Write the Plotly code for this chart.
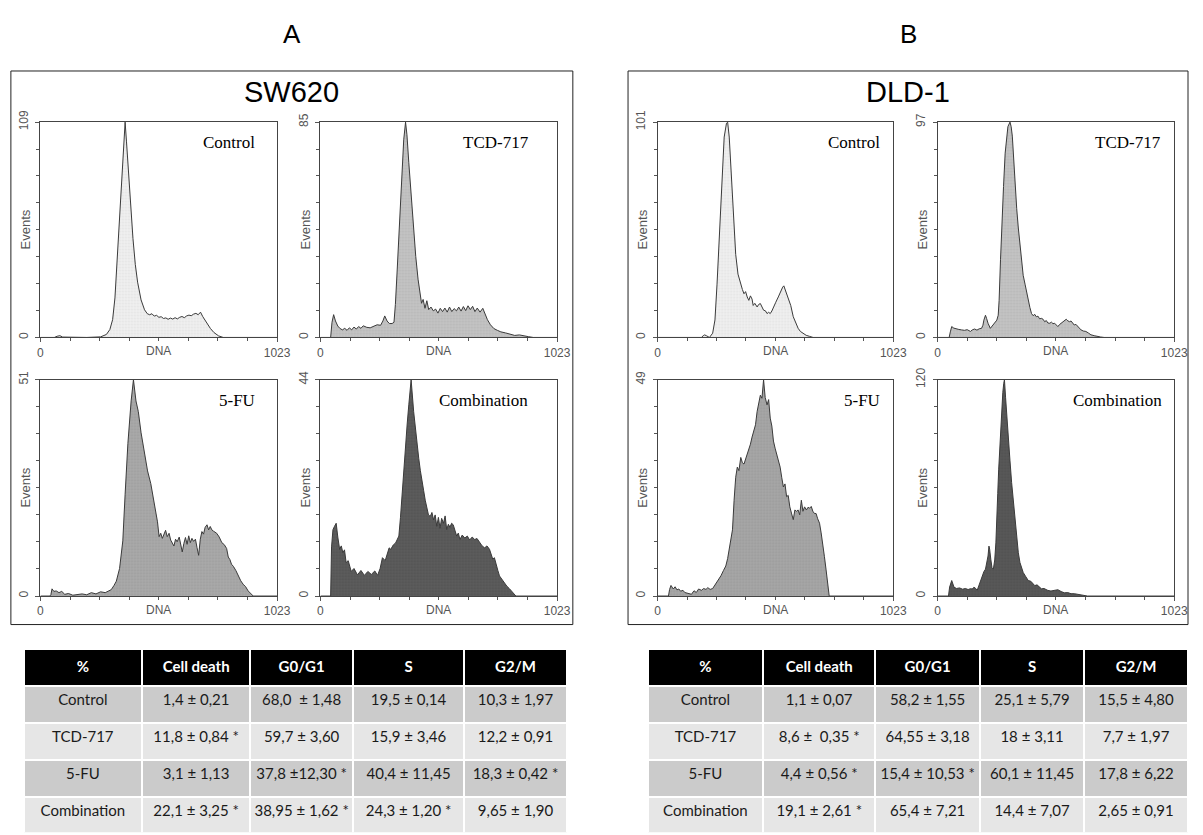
import plotly.graph_objects as go

W, H = 1203, 835

# ---------------- data ----------------
panel_letters = ["A", "B"]
cell_lines = ["SW620", "DLD-1"]
treatments = ["Control", "TCD-717", "5-FU", "Combination"]
dna_tick_labels = ["0", "1023"]
dna_range = [0, 1023]

# SW620 histograms (DNA channel, events)
sw_ymax = [109, 85, 51, 44]
sw_control_dna = [0, 60, 72, 84, 96, 200, 260, 285, 300, 312, 322, 332, 342, 352, 360, 366, 372, 380, 390, 400, 410, 420, 435, 450, 462, 472, 482, 492, 502, 512, 522, 532, 542, 552, 562, 572, 582, 592, 602, 612, 622, 632, 642, 652, 662, 672, 682, 692, 702, 712, 722, 735, 750, 770, 790, 1023]
sw_control_events = [0, 0, 0.6, 0.9, 0.2, 0, 0.3, 1.5, 4, 9, 20, 40, 62, 84, 100, 109, 99, 84, 67, 50, 37, 28, 19, 14, 12, 11.5, 12, 10.8, 11.2, 10.2, 10.5, 9.6, 9.9, 9.2, 9.8, 9.3, 10, 9.4, 10.2, 10.6, 10, 10.9, 11.3, 11, 11.8, 12.2, 11.5, 12.8, 10.5, 8.5, 6.5, 4.5, 2.5, 0.8, 0, 0]
sw_tcd_dna = [0, 44, 50, 57, 65, 75, 85, 95, 105, 115, 125, 135, 145, 155, 165, 175, 185, 200, 215, 230, 245, 260, 270, 278, 288, 298, 310, 318, 324, 332, 342, 352, 360, 368, 374, 382, 392, 402, 412, 422, 430, 437, 444, 452, 460, 468, 478, 488, 498, 508, 518, 528, 538, 548, 558, 568, 578, 588, 598, 608, 618, 628, 638, 648, 658, 668, 678, 690, 702, 712, 722, 735, 750, 765, 780, 800, 820, 840, 860, 880, 900, 920, 1023]
sw_tcd_events = [0, 0, 6, 9, 6.5, 4.5, 3.5, 3, 3.6, 2.8, 3.8, 3, 4.1, 3.3, 4.3, 3.6, 4.6, 4, 3.8, 4.5, 5, 4.8, 6.5, 8.5, 6.5, 5.5, 5.5, 6, 13, 27, 46, 65, 78, 85, 80, 69, 56, 43, 32, 23, 17, 13.5, 15, 11.5, 14.5, 11, 12, 10.5, 11.2, 9.6, 11.5, 10.2, 11.6, 10, 12, 10.2, 11.4, 10.5, 12, 10.4, 12.2, 10.6, 12.5, 11, 12.3, 10.2, 11.6, 10, 11.5, 9, 7, 5, 3.5, 2.8, 2.2, 1.8, 1.2, 0.8, 1, 0.5, 0.3, 0, 0]
sw_5fu_dna = [0, 40, 45, 50, 58, 68, 80, 92, 105, 121, 140, 160, 180, 200, 220, 240, 260, 280, 295, 306, 318, 328, 342, 356, 366, 378, 392, 402, 413, 423, 435, 449, 463, 477, 492, 506, 513, 520, 527, 534, 541, 548, 556, 563, 570, 577, 584, 591, 600, 613, 620, 627, 634, 641, 648, 655, 662, 670, 677, 684, 691, 698, 705, 712, 720, 727, 734, 741, 748, 755, 762, 773, 784, 795, 805, 812, 819, 826, 834, 845, 855, 866, 876, 887, 898, 910, 920, 1023]
sw_5fu_events = [0, 0, 0.3, 1.7, 1.1, 1.2, 0.8, 1.1, 0.4, 0.6, 0.2, 0.3, 0.5, 0.3, 0.8, 0.5, 1, 0.8, 1.1, 1.5, 2.5, 3.5, 6.5, 13, 24, 36, 46, 51, 46, 43.5, 38.5, 34, 29.5, 26.5, 22, 17.5, 14, 14.8, 13.6, 14.8, 15.5, 14, 14.8, 13.2, 12.4, 11.8, 13.4, 12.8, 13.9, 10.4, 12.4, 13.8, 12.2, 14.2, 12.6, 13.6, 12.9, 13.4, 11.4, 9.6, 13.4, 15.2, 14.6, 16.2, 16.8, 15.6, 16.4, 15.6, 15.3, 15.1, 14.8, 13.9, 12.6, 12.1, 11.2, 9.2, 8.6, 7.5, 7, 6, 4.8, 3.6, 2.8, 2.2, 1.2, 0.4, 0, 0]
sw_comb_dna = [0, 44, 48, 54, 61, 68, 75, 83, 90, 97, 104, 111, 120, 133, 145, 160, 175, 190, 205, 220, 235, 247, 258, 268, 280, 289, 297, 304, 315, 325, 339, 346, 353, 360, 368, 375, 382, 392, 403, 410, 418, 425, 432, 439, 446, 453, 460, 467, 475, 482, 489, 496, 503, 510, 517, 524, 532, 539, 546, 553, 560, 567, 574, 582, 589, 596, 603, 613, 624, 635, 645, 656, 667, 677, 688, 699, 710, 720, 731, 738, 745, 752, 760, 767, 774, 784, 795, 806, 817, 828, 838, 845, 1023]
sw_comb_events = [0, 0, 10, 13.5, 14.2, 14.8, 12, 9.5, 10.2, 8.8, 9.4, 6.8, 7.2, 5, 5.6, 4.3, 5.2, 4.2, 5, 4.4, 5.1, 4.2, 5.6, 7.8, 7.2, 8.8, 9.8, 9.5, 10.4, 10.8, 12.2, 16, 20.8, 26, 30.9, 35, 38.9, 44, 37.5, 34, 30.9, 28, 25.5, 23, 21.5, 19.5, 18.2, 16.5, 16.2, 17, 15.5, 16.5, 14.2, 16, 13.8, 15.8, 14.8, 16.3, 13.5, 14.6, 14, 14.8, 14.5, 13, 12.2, 12.8, 11.5, 12.4, 11.8, 12.2, 11.4, 12, 11.5, 11.7, 10.8, 10.2, 9.8, 10.2, 9.5, 8.4, 7.5, 7.8, 6.1, 5.2, 4.1, 3.4, 2.8, 2, 1.5, 0.9, 0.5, 0, 0]

# DLD-1 histograms (DNA channel, events)
dld_ymax = [101, 97, 49, 120]
dld_control_dna = [0, 190, 198, 204, 212, 225, 239, 249, 258, 268, 278, 289, 299, 304, 311, 318, 329, 339, 349, 360, 368, 375, 382, 389, 396, 403, 410, 415, 422, 432, 439, 446, 453, 460, 468, 475, 482, 489, 496, 503, 513, 524, 533, 543, 548, 553, 560, 567, 578, 589, 600, 610, 620, 631, 645, 660, 675, 1023]
dld_control_events = [0, 0, 0.8, 1.2, 0.8, 0, 2, 8.2, 25, 48, 74, 94, 100.5, 101, 94, 79, 56, 39, 29.7, 25, 22.5, 20.5, 21.5, 19, 17.4, 19.5, 18, 15, 16, 14.3, 15.5, 15.9, 14.2, 12.8, 12.5, 11.2, 11.8, 11.2, 12.4, 14.3, 16.5, 19, 21.5, 23.6, 24.2, 22.8, 21, 19, 15, 9.7, 6.5, 4.3, 2.8, 2, 1, 0.5, 0, 0]
dld_tcd_dna = [0, 50, 55, 61, 70, 80, 92, 104, 116, 128, 135, 142, 150, 160, 170, 180, 190, 196, 200, 204, 207, 212, 218, 228, 235, 242, 250, 256, 262, 266, 272, 278, 285, 292, 298, 304, 313, 318, 323, 329, 335, 342, 349, 356, 363, 370, 378, 385, 392, 399, 406, 413, 420, 427, 434, 441, 449, 456, 463, 470, 477, 485, 492, 499, 506, 513, 520, 527, 534, 541, 549, 556, 563, 570, 577, 584, 591, 598, 606, 613, 620, 630, 641, 652, 663, 677, 691, 705, 720, 1023]
dld_tcd_events = [0, 0, 2.5, 4.9, 4.2, 3.8, 3.6, 3.4, 3.2, 3.5, 3.1, 2.7, 3.4, 3.8, 3.3, 3.9, 4.1, 5.5, 7.8, 9, 10, 8.5, 6.4, 4.1, 5, 5.6, 6.6, 7.8, 10, 16.7, 35, 53.7, 68, 83, 90, 95, 97, 95, 90.7, 80, 68.5, 58, 49.3, 41, 33, 28, 24, 20, 16.7, 13.5, 10.8, 9.8, 10.4, 9.3, 9.6, 8.4, 8.6, 8.2, 7.1, 7.6, 6.5, 6.4, 6.9, 6.2, 6.4, 5.6, 4.9, 5.8, 6.4, 7.2, 7.8, 8.2, 7.5, 7.1, 7.4, 6.4, 5.6, 5.9, 4.8, 4.3, 3.4, 2.9, 2.7, 2, 1.2, 0.8, 0.4, 0.2, 0, 0]
dld_5fu_dna = [0, 47, 52, 58, 68, 76, 84, 92, 100, 110, 118, 128, 138, 147, 158, 168, 178, 190, 200, 210, 218, 228, 239, 254, 265, 275, 286, 296, 304, 311, 318, 325, 332, 339, 346, 353, 361, 368, 375, 382, 389, 396, 403, 410, 418, 425, 432, 439, 446, 453, 460, 467, 475, 482, 489, 496, 503, 510, 517, 524, 532, 539, 546, 553, 560, 567, 574, 582, 589, 596, 603, 610, 617, 624, 631, 638, 646, 653, 660, 667, 674, 681, 688, 695, 703, 710, 717, 724, 731, 738, 745, 1023]
dld_5fu_events = [0, 0, 1.5, 2.4, 1.6, 2.1, 1.4, 1.6, 1.1, 1.3, 0.8, 0.6, 0.5, 0.4, 1.2, 0.8, 1.6, 1.3, 1.7, 1.5, 1.9, 1.5, 1.7, 2.8, 3.6, 4.6, 5.8, 6.8, 8.5, 10.6, 12.8, 15, 21.7, 26.9, 29.2, 28.4, 31.4, 30.2, 29.9, 31, 32.1, 33.2, 34.4, 36, 37.3, 38.8, 41.8, 43.6, 45.5, 44.8, 49, 45, 43.3, 44.5, 40.3, 38.5, 35.1, 33.5, 32.1, 30.6, 29.2, 26.8, 24.7, 25.4, 22.5, 22.8, 20.2, 18.6, 17.3, 19.5, 19.2, 19.5, 18.4, 21.7, 19.2, 20.2, 19.5, 20.1, 19.9, 20.3, 19.2, 18.7, 18.7, 17.5, 16.5, 14.3, 12.1, 9, 6.1, 3, 0, 0]
dld_comb_dna = [0, 47, 52, 61, 71, 82, 95, 108, 120, 132, 142, 150, 157, 164, 171, 178, 185, 192, 200, 207, 213, 218, 222, 225, 230, 235, 241, 247, 252, 256, 260, 264, 269, 274, 278, 282, 286, 289, 294, 299, 306, 313, 320, 328, 335, 342, 349, 356, 363, 370, 380, 392, 403, 413, 420, 430, 440, 449, 460, 470, 477, 490, 506, 520, 534, 548, 563, 577, 591, 605, 620, 634, 648, 1023]
dld_comb_events = [0, 0, 5, 8.6, 4.9, 4.2, 4.5, 3.8, 4.2, 3.6, 4.1, 3.9, 4.9, 4.3, 3.1, 5.5, 9, 11.3, 13.5, 14.9, 18, 22.2, 27.7, 26, 20.4, 15.8, 14.9, 20, 29.5, 40, 56.8, 70, 84, 96, 106, 113, 118, 120, 110, 102, 88, 75, 63, 51.3, 40, 29.5, 24, 18.6, 15.5, 13.1, 11, 8.6, 8.2, 6.8, 5.8, 6.2, 5.1, 4, 4.2, 3.5, 3.1, 2.8, 3.1, 3.5, 2.5, 1.8, 1.9, 1.3, 1.3, 0.9, 0.5, 0.3, 0, 0]

# tables
table_header = ["%", "Cell death", "G0/G1", "S", "G2/M"]
sw_cell_death = ["1,4 ± 0,21", "11,8 ± 0,84 *", "3,1 ± 1,13", "22,1 ± 3,25 *"]
sw_g0g1 = ["68,0  ± 1,48", "59,7 ± 3,60", "37,8 ±12,30 *", "38,95 ± 1,62 *"]
sw_s = ["19,5 ± 0,14", "15,9 ± 3,46", "40,4 ± 11,45", "24,3 ± 1,20 *"]
sw_g2m = ["10,3 ± 1,97", "12,2 ± 0,91", "18,3 ± 0,42 *", "9,65 ± 1,90"]
dld_cell_death = ["1,1 ± 0,07", "8,6 ±  0,35 *", "4,4 ± 0,56 *", "19,1 ± 2,61 *"]
dld_g0g1 = ["58,2 ± 1,55", "64,55 ± 3,18", "15,4 ± 10,53 *", "65,4 ± 7,21"]
dld_s = ["25,1 ± 5,79", "18 ± 3,11", "60,1 ± 11,45", "14,4 ± 7,07"]
dld_g2m = ["15,5 ± 4,80", "7,7 ± 1,97", "17,8 ± 6,22", "2,65 ± 0,91"]

# ---------------- styling / layout ----------------
SANS = "Liberation Sans, Arial, sans-serif"
SERIF = "Liberation Serif, Times New Roman, serif"
TBL = "Lato, Open Sans, sans-serif"
TICK_C = "#555555"
NBSP = "\u00a0"


def px(x):
    return x / W


def py(y):
    return 1 - y / H


def nowrap(items):
    return [s.replace(" ", NBSP) for s in items]


# plot boxes in pixels: (left, right, top, bottom)
boxes = [
    (38, 278, 112, 331), (322, 562, 112, 331), (38, 278, 374, 594), (322, 562, 374, 594),
    (664, 903, 112, 331), (948, 1188, 112, 331), (664, 903, 374, 594), (948, 1188, 374, 594),
]
label_right_pad = [20, 26, 20, 27, 11, 11, 11, 10]
fills = ["#efefef", "#c3c3c3", "#a9a9a9", "#5c5c5c", "#efefef", "#c3c3c3", "#a6a6a6", "#585858"]
dots = ["#d8d8d8", "#acacac", "#909090", "#484848", "#d8d8d8", "#acacac", "#8e8e8e", "#464646"]

series = [
    (sw_control_dna, sw_control_events), (sw_tcd_dna, sw_tcd_events),
    (sw_5fu_dna, sw_5fu_events), (sw_comb_dna, sw_comb_events),
    (dld_control_dna, dld_control_events), (dld_tcd_dna, dld_tcd_events),
    (dld_5fu_dna, dld_5fu_events), (dld_comb_dna, dld_comb_events),
]
ymaxes = sw_ymax + dld_ymax
names = treatments + treatments

fig = go.Figure()
layout = dict(
    width=W, height=H, autosize=False,
    margin=dict(l=0, r=0, t=0, b=0),
    paper_bgcolor="white", plot_bgcolor="white",
    showlegend=False,
)
annotations = []
shapes = []

for i, ((xs, ys), ymax, box) in enumerate(zip(series, ymaxes, boxes)):
    k = i + 1
    xa = "x" if k == 1 else f"x{k}"
    ya = "y" if k == 1 else f"y{k}"
    fig.add_trace(go.Scatter(
        x=xs, y=ys, xaxis=xa, yaxis=ya, mode="lines",
        line=dict(color="#3a3a3a", width=1),
        fill="tozeroy", fillcolor=fills[i],
        fillpattern=dict(shape=".", bgcolor=fills[i], fgcolor=dots[i], size=3, solidity=0.3),
        hoverinfo="skip",
    ))
    l, r, t, b = box
    layout["xaxis" if k == 1 else f"xaxis{k}"] = dict(
        domain=[px(l), px(r)], anchor=ya, range=dna_range,
        tickmode="array", tickvals=dna_range, ticktext=dna_tick_labels,
        ticks="outside", ticklen=4, tickcolor=TICK_C, tickwidth=1,
        tickfont=dict(family=SANS, size=12, color=TICK_C),
        showline=True, linecolor="#444444", linewidth=1, mirror=True,
        showgrid=False, zeroline=False, fixedrange=True,
        minor=dict(tickmode="array", tickvals=[dna_range[1] * j / 8 for j in range(1, 8)],
                   ticks="outside", ticklen=3, tickcolor=TICK_C, showgrid=False),
    )
    layout["yaxis" if k == 1 else f"yaxis{k}"] = dict(
        domain=[py(b), py(t)], anchor=xa, range=[0, ymax],
        tickmode="array", tickvals=[0, ymax], ticktext=["0", str(ymax)],
        tickangle=-90, ticklabelstandoff=3,
        ticks="outside", ticklen=4, tickcolor=TICK_C, tickwidth=1,
        tickfont=dict(family=SANS, size=12, color=TICK_C),
        showline=True, linecolor="#444444", linewidth=1, mirror=True,
        showgrid=False, zeroline=False, fixedrange=True,
        minor=dict(tickmode="array", tickvals=[ymax * j / 8 for j in range(1, 8)],
                   ticks="outside", ticklen=3, tickcolor=TICK_C, showgrid=False),
    )
    # axis titles placed in line with tick labels
    annotations.append(dict(
        text="Events", x=px(l - 15), y=py((t + b) / 2), xref="paper", yref="paper",
        showarrow=False, textangle=-90, xanchor="center", yanchor="middle",
        font=dict(family=SANS, size=13, color=TICK_C)))
    annotations.append(dict(
        text="DNA", x=px((l + r) / 2), y=py(b + 14), xref="paper", yref="paper",
        showarrow=False, xanchor="center", yanchor="middle",
        font=dict(family=SANS, size=12, color=TICK_C)))
    annotations.append(dict(
        text=names[i], x=px(r - label_right_pad[i]), y=py(t + 21), xref="paper", yref="paper",
        showarrow=False, xanchor="right", yanchor="middle",
        font=dict(family=SERIF, size=17, color="black")))

# panel frames, titles and letters
frames = [(8, 578, 60, 623), (634, 1202, 60, 623)]
for (l, r, t, b), letter, title in zip(frames, panel_letters, cell_lines):
    shapes.append(dict(type="rect", xref="paper", yref="paper",
                       x0=px(l), x1=px(r), y0=py(b), y1=py(t),
                       line=dict(color="#222222", width=1)))
    annotations.append(dict(text=title, x=px((l + r) / 2), y=py(81), xref="paper", yref="paper",
                            showarrow=False, xanchor="center", yanchor="middle",
                            font=dict(family=SANS, size=29, color="black")))
    annotations.append(dict(text=letter, x=px((l + r) / 2), y=py(22), xref="paper", yref="paper",
                            showarrow=False, xanchor="center", yanchor="middle",
                            font=dict(family=SANS, size=26, color="black")))

# tables
row_fill = ["#cbcbcb", "#e6e6e6", "#cbcbcb", "#e6e6e6"]
tables = [
    ((21, 572), [120, 110, 104, 113, 104], [treatments, sw_cell_death, sw_g0g1, sw_s, sw_g2m]),
    ((654, 1202), [117, 114, 106, 106, 105], [treatments, dld_cell_death, dld_g0g1, dld_s, dld_g2m]),
]
for (l, r), widths, cols in tables:
    fig.add_trace(go.Table(
        domain=dict(x=[px(l), px(r)], y=[0, py(648)]),
        columnwidth=widths,
        header=dict(values=[f"<b>{h.replace(' ', NBSP)}</b>" for h in table_header],
                    fill_color="black", line=dict(color="white", width=2),
                    align="center", height=37,
                    font=dict(family=TBL, size=15, color="white")),
        cells=dict(values=[nowrap(c) for c in cols], fill_color=[row_fill] * len(cols),
                   line=dict(color="white", width=2), align="center", height=37,
                   font=dict(family=TBL, size=15, color="#1a1a1a")),
    ))

layout["annotations"] = annotations
layout["shapes"] = shapes
fig.update_layout(**layout)

post = (
    "document.documentElement.style.margin='0px';"
    "document.documentElement.style.overflow='hidden';"
    "document.body.style.margin='0px';"
    "document.body.style.padding='0px';"
    "document.body.style.overflow='hidden';"
    "var gds=document.getElementsByClassName('plotly-graph-div');"
    "for(var q=0;q<gds.length;q++){gds[q].style.position='fixed';"
    "gds[q].style.left='0px';gds[q].style.top='0px';}"
)
fig.write_html("out.html", config={"displayModeBar": False}, post_script=post)
